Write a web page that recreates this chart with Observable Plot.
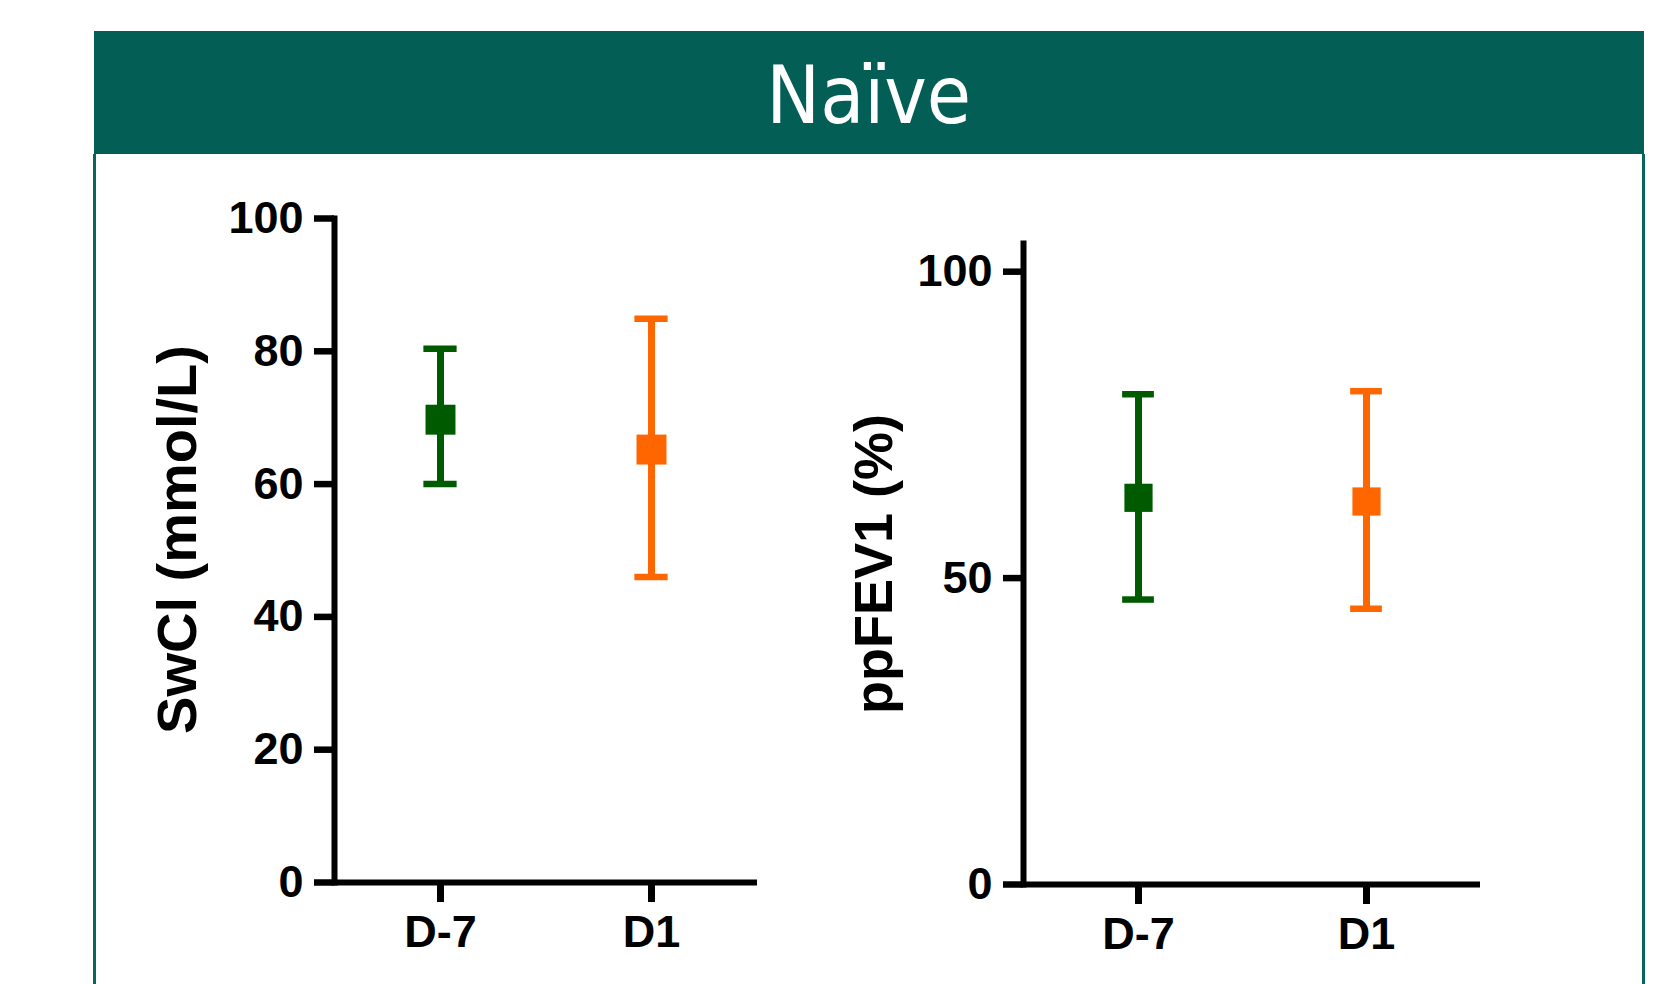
<!DOCTYPE html>
<html>
<head>
<meta charset="utf-8">
<script src="https://cdn.jsdelivr.net/npm/d3@7"></script>
<script src="https://cdn.jsdelivr.net/npm/@observablehq/plot@0.6"></script>
<style>
  html, body { margin: 0; padding: 0; background: #ffffff; }
  body { width: 1667px; height: 984px; position: relative; overflow: hidden; }
  #banner { position: absolute; left: 93.5px; top: 31px; width: 1550.5px; height: 122.5px; background: #035e55; }
  #title { position: absolute; left: 93.5px; top: 55.6px; width: 1550.5px; text-align: center;
           font-family: "DejaVu Sans Condensed", "DejaVu Sans", sans-serif; font-size: 80px; line-height: 1; color: #ffffff; }
  #box { position: absolute; left: 92.5px; top: 153.5px; width: 1546px; height: 900px;
         border-left: 3px solid #0a655b; border-right: 3px solid #0a655b; }
  .panel { position: absolute; top: 160px; }
</style>
</head>
<body>
<div id="banner"></div>
<div id="title"></div>
<div id="box"></div>
<div id="left" class="panel" style="left:100px"></div>
<div id="right" class="panel" style="left:820px"></div>
<script>
// ---- data ----
const panelTitle = "Naïve";
const days = ["D-7", "D1"];
const dayColors = ["#005a00", "#ff6600"];

const swclTitle = "SwCl (mmol/L)";
const swclTicks = [0, 20, 40, 60, 80, 100];
const swclMean = [69.7, 65.2];
const swclLow = [60.0, 46.0];
const swclHigh = [80.4, 84.9];

const fevTitle = "ppFEV1 (%)";
const fevTicks = [0, 50, 100];
const fevMean = [63.1, 62.5];
const fevLow = [46.5, 45.0];
const fevHigh = [80.0, 80.5];

document.getElementById("title").textContent = panelTitle;

const rowsOf = (mean, low, high) => days.map((d, i) => ({day: d, color: dayColors[i], mean: mean[i], low: low[i], high: high[i]}));

const FONT = "'Liberation Sans', Arial, Helvetica, sans-serif";

function panel({width, height, ml, mr, mt, mb, yDomain, ticks, title, titleSize, titleDx, titleDy, rows, r, capWidth}) {
  // band scale: paddingInner 0.5, paddingOuter 0.25 -> bandwidth = quarter of the range
  const bandwidth = (width - ml - mr) / 4;
  const capInset = (bandwidth - capWidth) / 2;
  return Plot.plot({
    width, height,
    marginLeft: ml, marginRight: mr, marginTop: mt, marginBottom: mb,
    x: {type: "band", domain: days, paddingInner: 0.5, paddingOuter: 0.25},
    y: {domain: yDomain},
    color: {type: "identity"},
    style: {background: "transparent", fontFamily: FONT, color: "#000", overflow: "visible"},
    marks: [
      Plot.frame({anchor: "left", strokeWidth: 6, stroke: "#000"}),
      Plot.ruleY([0], {strokeWidth: 6, stroke: "#000"}),
      Plot.axisY({ticks, tickSize: 20, strokeWidth: 6.5, tickPadding: 11, fontSize: 45, fontWeight: "bold", label: null, tickFormat: d => String(d)}),
      Plot.axisX({tickSize: 20, strokeWidth: 7, tickPadding: 13, fontSize: 45, fontWeight: "bold", label: null}),
      Plot.text([title], {text: d => d, frameAnchor: "left", rotate: -90, dx: titleDx, dy: titleDy, lineAnchor: "top", textAnchor: "middle", fontSize: titleSize, fontWeight: "bold", fill: "#000"}),
      Plot.ruleX(rows, {x: "day", y1: "low", y2: "high", stroke: "color", strokeWidth: 7}),
      Plot.tickY(rows, {x: "day", y: "high", stroke: "color", strokeWidth: 6.5, insetLeft: capInset, insetRight: capInset}),
      Plot.tickY(rows, {x: "day", y: "low", stroke: "color", strokeWidth: 6.5, insetLeft: capInset, insetRight: capInset}),
      Plot.dot(rows, {x: "day", y: "mean", symbol: "square", r, fill: "color"})
    ]
  });
}

const leftSvg = panel({
  width: 700, height: 824, ml: 234, mr: 43, mt: 58, mb: 102,
  yDomain: [0, 100], ticks: swclTicks, title: swclTitle, titleSize: 56, titleDx: -178, titleDy: -11,
  rows: rowsOf(swclMean, swclLow, swclHigh), r: 16.9, capWidth: 33
});
const rightSvg = panel({
  width: 740, height: 824, ml: 203, mr: 80, mt: 83, mb: 100,
  yDomain: [0, 104.6], ticks: fevTicks, title: fevTitle, titleSize: 54, titleDx: -170, titleDy: 0,
  rows: rowsOf(fevMean, fevLow, fevHigh), r: 15.9, capWidth: 32
});
document.getElementById("left").appendChild(leftSvg);
document.getElementById("right").appendChild(rightSvg);
</script>
</body>
</html>
